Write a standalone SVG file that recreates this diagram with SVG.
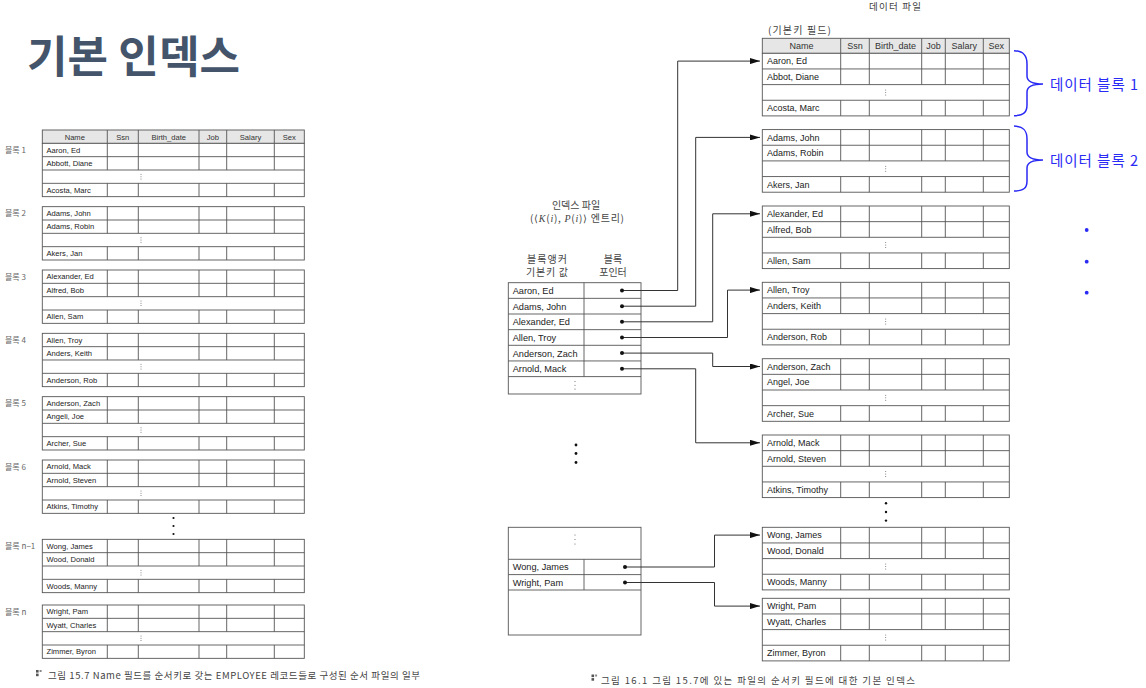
<svg xmlns="http://www.w3.org/2000/svg" xmlns:xlink="http://www.w3.org/1999/xlink" width="1146" height="688" viewBox="0 0 1146 688">
<style>
.bg{fill:#ffffff}
.cell{fill:#ffffff;stroke:#555555;stroke-width:0.9}
.hdr{fill:#e6e6e6;stroke:#555555;stroke-width:0.9}
.ln{fill:none;stroke:#555555;stroke-width:0.9}
.lt{font-family:"Liberation Sans",Arial,sans-serif;font-size:7.6px;fill:#222}
.lh{font-family:"Liberation Sans",Arial,sans-serif;font-size:7.6px;fill:#333;text-anchor:middle}
.rt{font-family:"Liberation Sans",Arial,sans-serif;font-size:9px;fill:#222}
.rh{font-family:"Liberation Sans",Arial,sans-serif;font-size:9px;fill:#333;text-anchor:middle}
.it{font-family:"Liberation Sans",Arial,sans-serif;font-size:9.2px;fill:#222}
.kr{font-family:"Noto Sans CJK KR","Noto Sans",sans-serif;fill:#444}
.blk{font-family:"Noto Sans CJK KR","Noto Sans",sans-serif;font-size:8px;fill:#666}
.math{font-family:"Liberation Serif","DejaVu Serif",serif;font-style:italic}
.blue{font-family:"Noto Sans CJK KR","Noto Sans",sans-serif;font-size:14.5px;fill:#2a2af5}
.brace{fill:none;stroke:#2a2af5;stroke-width:1.5}
.conn{fill:none;stroke:#333333;stroke-width:1}
.dot{fill:#111}
.edot{fill:#666}
</style>
<defs>
<marker id="arr" viewBox="0 0 10 6" refX="10" refY="3" markerWidth="10" markerHeight="6" markerUnits="userSpaceOnUse" orient="auto">
<path d="M0,0 L10,3 L0,6 Z" fill="#111"/>
</marker>
<g id="lgrid">
<rect class="cell" x="0" y="0" width="262" height="53.33"/>
<path class="ln" d="M0,13.33H262M0,26.67H262M0,40H262M65,0V26.67M65,40V53.33M96,0V26.67M96,40V53.33M156.7,0V26.67M156.7,40V53.33M184.4,0V26.67M184.4,40V53.33M232,0V26.67M232,40V53.33"/>
<circle class="edot" cx="98.7" cy="31" r="0.5"/>
<circle class="edot" cx="98.7" cy="33.3" r="0.5"/>
<circle class="edot" cx="98.7" cy="35.6" r="0.5"/>
</g>
<g id="rgrid">
<rect class="cell" x="0" y="0" width="247" height="62.6"/>
<path class="ln" d="M0,15.65H247M0,31.3H247M0,46.95H247M78.4,0V31.3M78.4,46.95V62.6M107,0V31.3M107,46.95V62.6M159.4,0V31.3M159.4,46.95V62.6M183,0V31.3M183,46.95V62.6M221,0V31.3M221,46.95V62.6"/>
<circle class="edot" cx="123.4" cy="36.6" r="0.5"/>
<circle class="edot" cx="123.4" cy="39.1" r="0.5"/>
<circle class="edot" cx="123.4" cy="41.6" r="0.5"/>
</g>
</defs>
<rect class="bg" x="0" y="0" width="1146" height="688"/>

<g id="title">
<text x="27" y="73" font-family="'Noto Sans CJK KR','Noto Sans',sans-serif" font-size="44" font-weight="bold" fill="#44546a" textLength="213" lengthAdjust="spacing">기본 인덱스</text>
</g>

<!-- Left: figure 15.7 -->
<g id="left-header">
<rect class="hdr" x="42.3" y="130" width="262" height="13.33"/>
<path class="ln" d="M107.3,130V143.33M138.3,130V143.33M199,130V143.33M226.7,130V143.33M274.3,130V143.33"/>
<text class="lh" x="74.8" y="139.6">Name</text>
<text class="lh" x="122.8" y="139.6">Ssn</text>
<text class="lh" x="168.7" y="139.6">Birth_date</text>
<text class="lh" x="212.9" y="139.6">Job</text>
<text class="lh" x="250.5" y="139.6">Salary</text>
<text class="lh" x="289.3" y="139.6">Sex</text>
</g>
<g id="left-block-1">
<use xlink:href="#lgrid" x="42.3" y="143.33"/>
<text class="blk" x="5" y="152.9">블록 1</text>
<text class="lt" x="46.5" y="152.7">Aaron, Ed</text>
<text class="lt" x="46.5" y="166">Abbott, Diane</text>
<text class="lt" x="46.5" y="192.7">Acosta, Marc</text>
</g>
<g id="left-block-2">
<use xlink:href="#lgrid" x="42.3" y="206.67"/>
<text class="blk" x="5" y="216.3">블록 2</text>
<text class="lt" x="46.5" y="216.1">Adams, John</text>
<text class="lt" x="46.5" y="229.4">Adams, Robin</text>
<text class="lt" x="46.5" y="256.1">Akers, Jan</text>
</g>
<g id="left-block-3">
<use xlink:href="#lgrid" x="42.3" y="270"/>
<text class="blk" x="5" y="279.6">블록 3</text>
<text class="lt" x="46.5" y="279.4">Alexander, Ed</text>
<text class="lt" x="46.5" y="292.7">Alfred, Bob</text>
<text class="lt" x="46.5" y="319.4">Allen, Sam</text>
</g>
<g id="left-block-4">
<use xlink:href="#lgrid" x="42.3" y="333.33"/>
<text class="blk" x="5" y="342.9">블록 4</text>
<text class="lt" x="46.5" y="342.7">Allen, Troy</text>
<text class="lt" x="46.5" y="356">Anders, Keith</text>
<text class="lt" x="46.5" y="382.7">Anderson, Rob</text>
</g>
<g id="left-block-5">
<use xlink:href="#lgrid" x="42.3" y="396.67"/>
<text class="blk" x="5" y="406.3">블록 5</text>
<text class="lt" x="46.5" y="406.1">Anderson, Zach</text>
<text class="lt" x="46.5" y="419.4">Angeli, Joe</text>
<text class="lt" x="46.5" y="446.1">Archer, Sue</text>
</g>
<g id="left-block-6">
<use xlink:href="#lgrid" x="42.3" y="460"/>
<text class="blk" x="5" y="469.6">블록 6</text>
<text class="lt" x="46.5" y="469.4">Arnold, Mack</text>
<text class="lt" x="46.5" y="482.7">Arnold, Steven</text>
<text class="lt" x="46.5" y="509.4">Atkins, Timothy</text>
</g>
<g id="left-ellipsis">
<circle class="dot" cx="173.5" cy="518" r="1.1"/>
<circle class="dot" cx="173.5" cy="526" r="1.1"/>
<circle class="dot" cx="173.5" cy="534" r="1.1"/>
</g>
<g id="left-block-n-1">
<use xlink:href="#lgrid" x="42.3" y="539.33"/>
<text class="blk" x="5" y="548.9">블록 n−1</text>
<text class="lt" x="46.5" y="548.7">Wong, James</text>
<text class="lt" x="46.5" y="562">Wood, Donald</text>
<text class="lt" x="46.5" y="588.7">Woods, Manny</text>
</g>
<g id="left-block-n">
<use xlink:href="#lgrid" x="42.3" y="605"/>
<text class="blk" x="5" y="614.6">블록 n</text>
<text class="lt" x="46.5" y="614.4">Wright, Pam</text>
<text class="lt" x="46.5" y="627.7">Wyatt, Charles</text>
<text class="lt" x="46.5" y="654.4">Zimmer, Byron</text>
</g>
<g id="caption-left">
<rect x="36" y="670" width="2.6" height="2.6" fill="#555"/>
<rect x="36" y="673.6" width="2.6" height="2.6" fill="#555"/>
<rect x="39.6" y="670" width="2" height="2" fill="#888"/>
<text class="kr" x="48" y="679" font-size="9.5" textLength="372" lengthAdjust="spacing">그림 15.7 Name 필드를 순서키로 갖는 EMPLOYEE 레코드들로 구성된 순서 파일의 일부</text>
</g>

<!-- Right: figure 16.1 -->
<g id="index-labels">
<text class="kr" x="576" y="209" font-size="10" text-anchor="middle">인덱스 파일</text>
<text class="kr" x="530" y="222" font-size="10" textLength="94" lengthAdjust="spacing">(⟨<tspan class="math">K</tspan>(<tspan class="math">i</tspan>),  <tspan class="math">P</tspan>(<tspan class="math">i</tspan>)⟩ 엔트리)</text>
<text class="kr" x="547" y="263" font-size="10" text-anchor="middle" textLength="40" lengthAdjust="spacing">블록앵커</text>
<text class="kr" x="547" y="276" font-size="10" text-anchor="middle" textLength="42" lengthAdjust="spacing">기본키 값</text>
<text class="kr" x="613" y="263" font-size="10" text-anchor="middle">블록</text>
<text class="kr" x="613" y="276" font-size="10" text-anchor="middle">포인터</text>
</g>
<g id="index-file-top">
<rect class="cell" x="508.3" y="282.7" width="132.7" height="111.3"/>
<path class="ln" d="M508.3,298.35H641M508.3,314H641M508.3,329.65H641M508.3,345.3H641M508.3,360.95H641M508.3,376.6H641M584,282.7V376.6"/>
<text class="it" x="512.7" y="293.9">Aaron, Ed</text>
<text class="it" x="512.7" y="309.5">Adams, John</text>
<text class="it" x="512.7" y="325.2">Alexander, Ed</text>
<text class="it" x="512.7" y="340.8">Allen, Troy</text>
<text class="it" x="512.7" y="356.5">Anderson, Zach</text>
<text class="it" x="512.7" y="372.1">Arnold, Mack</text>
<circle class="edot" cx="575" cy="381.5" r="0.55"/>
<circle class="edot" cx="575" cy="385.3" r="0.55"/>
<circle class="edot" cx="575" cy="389.1" r="0.55"/>
</g>
<g id="index-ellipsis">
<circle class="dot" cx="576" cy="445" r="1.4"/>
<circle class="dot" cx="576" cy="453.5" r="1.4"/>
<circle class="dot" cx="576" cy="462.5" r="1.4"/>
</g>
<g id="index-file-bottom">
<rect class="cell" x="508.3" y="527.3" width="132.7" height="107.7"/>
<path class="ln" d="M508.3,559.3H641M508.3,574.6H641M508.3,590H641M584,559.3V590"/>
<text class="it" x="512.7" y="570.4">Wong, James</text>
<text class="it" x="512.7" y="585.8">Wright, Pam</text>
<circle class="edot" cx="575" cy="535" r="0.55"/>
<circle class="edot" cx="575" cy="539.5" r="0.55"/>
<circle class="edot" cx="575" cy="544" r="0.55"/>
</g>

<g id="data-labels">
<text class="kr" x="895" y="9.5" font-size="9.5" text-anchor="middle" textLength="52" lengthAdjust="spacing">데이터 파일</text>
<text class="kr" x="768" y="34" font-size="10" textLength="63" lengthAdjust="spacing">(기본키 필드)</text>
</g>
<g id="data-header">
<rect class="hdr" x="762.3" y="38.3" width="247" height="15"/>
<path class="ln" d="M840.7,38.3V53.3M869.3,38.3V53.3M921.7,38.3V53.3M945.3,38.3V53.3M983.3,38.3V53.3"/>
<text class="rh" x="801.5" y="49.2">Name</text>
<text class="rh" x="855" y="49.2">Ssn</text>
<text class="rh" x="895.5" y="49.2">Birth_date</text>
<text class="rh" x="933.5" y="49.2">Job</text>
<text class="rh" x="964.3" y="49.2">Salary</text>
<text class="rh" x="996.3" y="49.2">Sex</text>
</g>
<g id="data-block-1">
<use xlink:href="#rgrid" x="762.3" y="53.3"/>
<text class="rt" x="767" y="64.4">Aaron, Ed</text>
<text class="rt" x="767" y="80.05">Abbot, Diane</text>
<text class="rt" x="767" y="111.35">Acosta, Marc</text>
</g>
<g id="data-block-2">
<use xlink:href="#rgrid" x="762.3" y="129.6"/>
<text class="rt" x="767" y="140.7">Adams, John</text>
<text class="rt" x="767" y="156.35">Adams, Robin</text>
<text class="rt" x="767" y="187.65">Akers, Jan</text>
</g>
<g id="data-block-3">
<use xlink:href="#rgrid" x="762.3" y="206"/>
<text class="rt" x="767" y="217.1">Alexander, Ed</text>
<text class="rt" x="767" y="232.75">Alfred, Bob</text>
<text class="rt" x="767" y="264.05">Allen, Sam</text>
</g>
<g id="data-block-4">
<use xlink:href="#rgrid" x="762.3" y="282.3"/>
<text class="rt" x="767" y="293.4">Allen, Troy</text>
<text class="rt" x="767" y="309.05">Anders, Keith</text>
<text class="rt" x="767" y="340.35">Anderson, Rob</text>
</g>
<g id="data-block-5">
<use xlink:href="#rgrid" x="762.3" y="358.7"/>
<text class="rt" x="767" y="369.8">Anderson, Zach</text>
<text class="rt" x="767" y="385.45">Angel, Joe</text>
<text class="rt" x="767" y="416.75">Archer, Sue</text>
</g>
<g id="data-block-6">
<use xlink:href="#rgrid" x="762.3" y="435"/>
<text class="rt" x="767" y="446.1">Arnold, Mack</text>
<text class="rt" x="767" y="461.75">Arnold, Steven</text>
<text class="rt" x="767" y="493.05">Atkins, Timothy</text>
</g>
<g id="data-ellipsis">
<circle class="dot" cx="886" cy="503.3" r="1.2"/>
<circle class="dot" cx="886" cy="512" r="1.2"/>
<circle class="dot" cx="886" cy="520.6" r="1.2"/>
</g>
<g id="data-block-n-1">
<use xlink:href="#rgrid" x="762.3" y="527.3"/>
<text class="rt" x="767" y="538.4">Wong, James</text>
<text class="rt" x="767" y="554.05">Wood, Donald</text>
<text class="rt" x="767" y="585.35">Woods, Manny</text>
</g>
<g id="data-block-n">
<use xlink:href="#rgrid" x="762.3" y="598.3"/>
<text class="rt" x="767" y="609.4">Wright, Pam</text>
<text class="rt" x="767" y="625.05">Wyatt, Charles</text>
<text class="rt" x="767" y="656.35">Zimmer, Byron</text>
</g>

<g id="brace-1">
<path class="brace" d="M1014,50.7 C1024,51 1027,56 1027,64 V76 C1027,82 1033,84 1043,84 C1033,84 1027,86 1027,92 V105 C1027,112 1024,115.5 1014,115.7"/>
<text class="blue" x="1050" y="90" textLength="88" lengthAdjust="spacing">데이터 블록 1</text>
</g>
<g id="brace-2">
<path class="brace" d="M1014,126 C1024,126.3 1027,131 1027,139 V152 C1027,158 1033,160 1043,160 C1033,160 1027,162 1027,168 V181 C1027,188 1024,190.7 1014,191"/>
<text class="blue" x="1050" y="166" textLength="88" lengthAdjust="spacing">데이터 블록 2</text>
</g>
<g id="blue-ellipsis">
<circle cx="1086.7" cy="230" r="1.9" fill="#2a2af5"/>
<circle cx="1086.7" cy="261.7" r="1.9" fill="#2a2af5"/>
<circle cx="1086.7" cy="292.7" r="1.9" fill="#2a2af5"/>
</g>

<g id="connectors">
<path class="conn" d="M622,290.5 H677.7 V61.1 H760" marker-end="url(#arr)"/>
<path class="conn" d="M622,306.2 H695.7 V137.4 H760" marker-end="url(#arr)"/>
<path class="conn" d="M622,321.8 H712.7 V213.8 H760" marker-end="url(#arr)"/>
<path class="conn" d="M622,337.5 H727.5 V290.1 H760" marker-end="url(#arr)"/>
<path class="conn" d="M622,353.1 H712.7 V366.5 H760" marker-end="url(#arr)"/>
<path class="conn" d="M622,368.8 H695.7 V442.8 H760" marker-end="url(#arr)"/>
<path class="conn" d="M625,567 H714.5 V535.1 H760" marker-end="url(#arr)"/>
<path class="conn" d="M625,582.5 H714.5 V606.1 H760" marker-end="url(#arr)"/>
<circle class="dot" cx="622" cy="290.5" r="2"/>
<circle class="dot" cx="622" cy="306.2" r="2"/>
<circle class="dot" cx="622" cy="321.8" r="2"/>
<circle class="dot" cx="622" cy="337.5" r="2"/>
<circle class="dot" cx="622" cy="353.1" r="2"/>
<circle class="dot" cx="622" cy="368.8" r="2"/>
<circle class="dot" cx="625" cy="567" r="2"/>
<circle class="dot" cx="625" cy="582.5" r="2"/>
</g>

<g id="caption-right">
<rect x="591.5" y="674.5" width="2.6" height="2.6" fill="#555"/>
<rect x="591.5" y="678.1" width="2.6" height="2.6" fill="#555"/>
<rect x="595.1" y="674.5" width="2" height="2" fill="#888"/>
<text class="kr" x="601" y="683.5" font-size="9.5" textLength="314" lengthAdjust="spacing">그림 16.1 그림 15.7에 있는 파일의 순서키 필드에 대한 기본 인덱스</text>
</g>
</svg>
